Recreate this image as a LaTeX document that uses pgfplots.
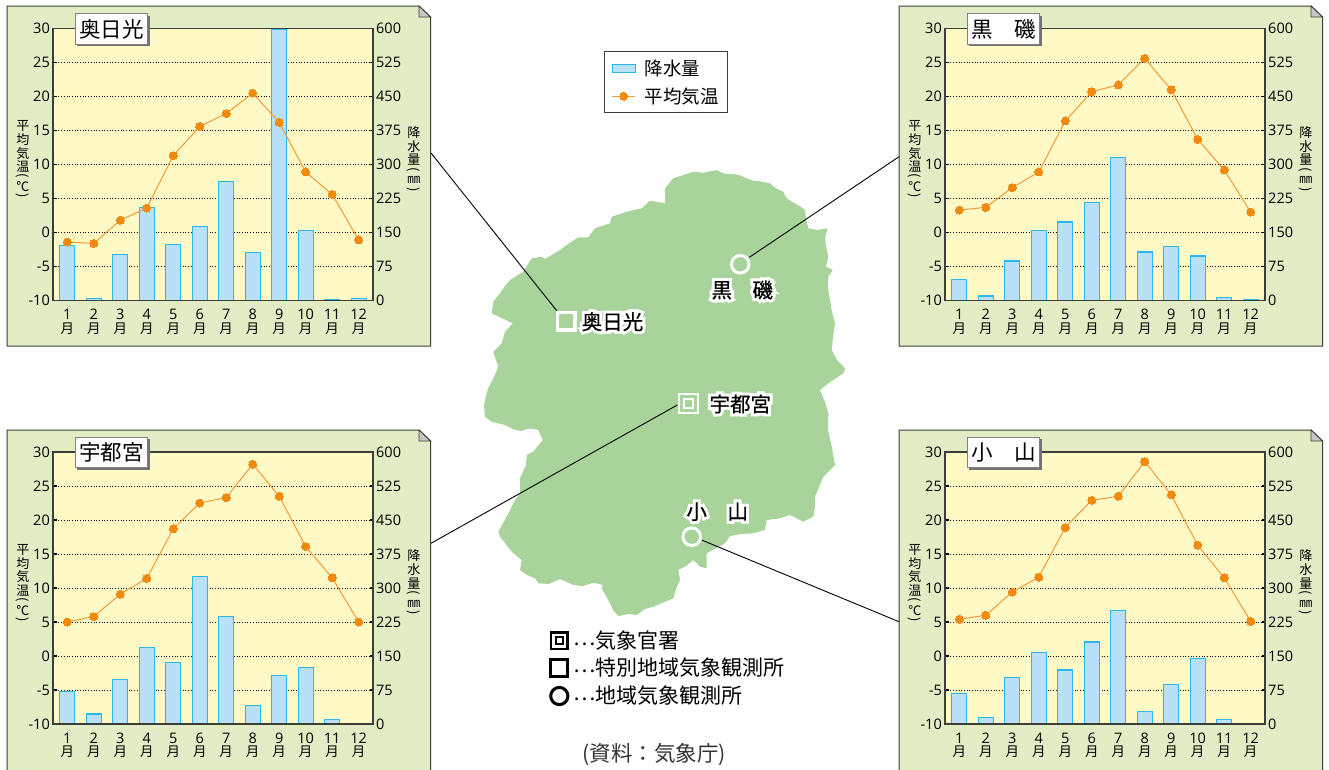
\documentclass[border=0pt]{standalone}
\usepackage{graphicx}
\usepackage{fontspec}
\usepackage{pgfplots}
\usepackage{pgfplotstable}
\pgfplotsset{compat=1.18}
\setmainfont{Open Sans}
\newfontfamily\jp{Noto Sans CJK JP}
\newfontfamily\jpb[FakeBold=0.5]{Noto Sans CJK JP}
\newfontfamily\jphalo[FakeBold=30]{Noto Sans CJK JP}

\definecolor{cardbg}{HTML}{E2EDC6}
\definecolor{plotbg}{HTML}{FEF9C5}
\definecolor{mapgreen}{HTML}{A8D39A}
\definecolor{barfill}{HTML}{B8E1F9}
\definecolor{baredge}{HTML}{2BB7EA}
\definecolor{tempdot}{HTML}{F18A0E}
\definecolor{templine}{HTML}{F39A35}
\definecolor{axisdark}{HTML}{3C3F38}

% month temperature rain
\pgfplotstableread{
m t p
1 -1.4 121
2 -1.6 5
3 1.8 102
4 3.6 206
5 11.3 124
6 15.6 163
7 17.5 262
8 20.5 105
9 16.2 597
10 8.9 154
11 5.6 3
12 -1.1 4
}\okunikko
\pgfplotstableread{
m t p
1 3.3 47
2 3.7 10
3 6.6 87
4 8.9 154
5 16.4 173
6 20.7 216
7 21.7 315
8 25.6 107
9 21.0 119
10 13.7 98
11 9.2 7
12 3.0 1
}\kuroiso
\pgfplotstableread{
m t p
1 5.0 72
2 5.8 22
3 9.1 99
4 11.4 169
5 18.7 135
6 22.5 325
7 23.3 237
8 28.2 41
9 23.5 107
10 16.1 124
11 11.5 10
12 5.0 1
}\utsunomiya
\pgfplotstableread{
m t p
1 5.4 68
2 6.0 15
3 9.4 102
4 11.6 158
5 18.9 119
6 22.9 181
7 23.5 251
8 28.6 28
9 23.7 88
10 16.3 144
11 11.5 10
12 5.1 0
}\oyama

\pgfplotstableread{
x y
716.7 170
721 172.5
726.7 174
733 174
740 175.3
747 178.5
753.3 180.7
761 181.5
770 183.3
776 188.5
783.3 191.7
786 197.5
791.7 201.7
798 205
805 210
806 219
808.3 228.3
818 230
827.7 228.3
825 238
826 246.7
828.3 256.7
826 266.7
832.7 270
828.3 276.7
828 288
830 300
832 312
835 323.3
833 337
831.7 350
837 360
845 368.3
843.3 373.3
828.3 383.3
820 390
825 402
828.3 413.3
828 430
831.7 446.7
835 465
823.3 476.7
819 487
815 496.7
815 507
813.3 516.7
803.3 521.7
790 515
780 518.3
766.7 520
765 530
753.3 533.3
741 534
730 536
725 543.3
706.7 553.3
706.7 568.3
700 566.7
693.3 560
686 566
678.3 570
680 580
676 589
673.3 598.3
653.3 606.7
645 609
636.7 615
628 614
618.3 616
613 610
610 603.3
601.7 588.3
603.3 585
593.3 582.7
583 586
573.3 585
560 579
549 584
538.3 583.3
535 578.3
527 575
520 570
521.7 560
512 552
500 536.7
498.3 531.7
507 516
515 500
520 493.3
520 478.3
526 465
526.7 455
533.3 451.7
542.7 440
538.3 430
530 428.3
521 431
513.3 429.3
505 425
491.7 421.7
485 416.7
484 405
486.7 393.3
488.3 388.3
494 377
498.3 366.7
493.3 351.7
501.7 343.3
505 331.7
512.7 323.3
491.7 313.3
493.3 301.7
500 293.3
505 286
510 280
523.3 271.7
531.7 258.3
541.7 256.7
545 259
560 250
566.7 245
578.3 237.3
588.3 237.3
595 228.3
610 223.3
611.7 216.7
626.7 211.7
641.7 208.3
650 200.7
665 203.3
665 188.3
673.3 178.3
683.3 175
693.3 171.7
703.3 172.7
}\mapoutline

\newcommand\mon[1]{#1\\[-0.5pt]{\jp\fontsize{13.5}{13.5}\selectfont 月}}
\newcommand\vparen[1]{\rotatebox[origin=c]{-90}{#1}}
% one cell of a stacked vertical label: height, content
\newcommand\vcell[2]{\hbox to 16pt{\hfil\vbox to #1pt{\vfil\hbox{#2}\vfil}\hfil}}
\newcommand\vunit[1]{\vcell{7}{\vparen{(}}\vcell{13}{#1}\vcell{7}{\vparen{)}}}
\newcommand\vlabel[1]{{\jp\fontsize{13}{13.5}\selectfont\vbox{\offinterlineskip #1}}}

\pgfplotsset{
  panel/.style={
    scale only axis, width=320pt, height=272pt, anchor=south west,
    xmin=0.46, xmax=12.54, clip=false,
    tick align=inside, major tick length=3.5pt,
    tick style={black, line width=1.2pt},
    axis line style={axisdark, line width=1.3pt},
    tick label style={font=\fontsize{14.5}{14}\selectfont, inner sep=3pt},
    /pgf/number format/assume math mode=true,
    ylabel style={rotate=-90, anchor=center},
  },
}

\newcommand\chart[3]{%
  \begin{axis}[panel, at={(#1pt,#2pt)},
      ymin=0, ymax=600, ytick={0,75,...,600},
      axis x line=none, axis y line*=right,
      ymajorgrids, grid style={black, line width=0.7pt, dotted},
      axis background/.style={fill=plotbg},
      ylabel={\vlabel{\vcell{13.7}{降}\vcell{13.7}{水}\vcell{13.7}{量}\vunit{㎜}}},
      ylabel style={at={(axis description cs:1.128,0.518)}},
    ]
    \addplot[ybar, bar width=15pt, fill=barfill, draw=baredge, line width=1.2pt]
      table[x=m, y=p] {#3};
  \end{axis}
  \begin{axis}[panel, at={(#1pt,#2pt)},
      ymin=-10, ymax=30, ytick={-10,-5,...,30}, ytick pos=left,
      xtick={1,...,12}, xtick pos=bottom, x tick style={draw=none},
      x tick label style={align=center, yshift=-5.5pt},
      xticklabels={{\mon{1}},{\mon{2}},{\mon{3}},{\mon{4}},{\mon{5}},{\mon{6}},
        {\mon{7}},{\mon{8}},{\mon{9}},{\mon{10}},{\mon{11}},{\mon{12}}},
      ylabel={\vlabel{\vcell{13.5}{平}\vcell{13.5}{均}\vcell{13.5}{気}\vcell{13.5}{温}\vunit{℃}}},
      ylabel style={at={(axis description cs:-0.094,0.5165)}},
    ]
    \addplot[templine, line width=1pt, mark=*, mark size=4pt,
        mark options={fill=tempdot, draw=tempdot, line width=0pt}]
      table[x=m, y=t] {#3};
  \end{axis}
}

% title tag in pixel coordinates: left, top, text
\newcommand\tag[3]{%
  \fill[black!55] (#1+2,#2+2) rectangle ++(72.2,30.6);
  \draw[black!50, fill=white, line width=0.9pt] (#1,#2) rectangle ++(72.2,30.6);
  \node[font=\jp\fontsize{21.5}{22}\selectfont, inner sep=0pt]
    at (#1+36.1,#2+15.3) {#3};
}
% map label with white halo
\newcommand\stn[3]{%
  \node[white, font=\jphalo\fontsize{20.5}{21}\selectfont, inner sep=0pt] at (#1,#2) {#3};
  \node[font=\jpb\fontsize{20.5}{21}\selectfont, inner sep=0pt] at (#1,#2) {#3};
}
\newcommand\leaderdots{\raisebox{3.5pt}{⋯}}

\begin{document}
\begin{tikzpicture}
\path[use as bounding box] (0,0) rectangle (1329pt,769pt);

\begin{axis}[
    scale only axis, width=1329pt, height=769pt, at={(0pt,0pt)}, anchor=south west,
    xmin=0, xmax=1329, ymin=0, ymax=769, y dir=reverse, hide axis,
    every axis plot/.append style={forget plot},
    legend cell align=left,
    legend image code/.code={
      \draw[mark repeat=2, mark phase=2, #1] plot coordinates {(0pt,0pt) (11.5pt,0pt) (23pt,0pt)};
    },
    legend style={at={(axis description cs:0.4545,0.9337)}, anchor=north west,
      draw=axisdark, line width=1.2pt, fill=white, row sep=7pt,
      inner xsep=7pt, inner ysep=6pt,
      /tikz/every odd column/.append style={column sep=7pt},
      font=\jp\fontsize{18.5}{18.5}\selectfont},
  ]
  % cards
  \addplot[fill=cardbg, draw=axisdark, line width=1pt] coordinates {(7,6) (419,6) (430.5,17) (430.5,346) (7,346)} -- cycle;
  \addplot[fill=cardbg, draw=axisdark, line width=1pt] coordinates {(899,6) (1311,6) (1322.5,17) (1322.5,346) (899,346)} -- cycle;
  \addplot[fill=cardbg, draw=axisdark, line width=1pt] coordinates {(7,430) (419,430) (430.5,441) (430.5,790) (7,790)} -- cycle;
  \addplot[fill=cardbg, draw=axisdark, line width=1pt] coordinates {(899,430) (1311,430) (1322.5,441) (1322.5,790) (899,790)} -- cycle;
  % folded corners
  \addplot[fill=black!22, draw=axisdark, line width=0.8pt] coordinates {(419,6) (419,17) (430.5,17)} -- cycle;
  \addplot[fill=black!22, draw=axisdark, line width=0.8pt] coordinates {(1311,6) (1311,17) (1322.5,17)} -- cycle;
  \addplot[fill=black!22, draw=axisdark, line width=0.8pt] coordinates {(419,430) (419,441) (430.5,441)} -- cycle;
  \addplot[fill=black!22, draw=axisdark, line width=0.8pt] coordinates {(1311,430) (1311,441) (1322.5,441)} -- cycle;
  % map
  \addplot[fill=mapgreen, draw=none] table[x=x, y=y] {\mapoutline} -- cycle;
  % leader lines
  \addplot[black, line width=0.9pt] coordinates {(431,153) (557,311)};
  \addplot[black, line width=0.9pt] coordinates {(899,156.7) (749.3,257.3)};
  \addplot[black, line width=0.9pt] coordinates {(431,543.3) (677.3,405)};
  \addplot[black, line width=0.9pt] coordinates {(899,621.7) (702.3,540.3)};
  % stations
  \addplot[only marks, mark=square, mark size=8.8pt, white, line width=3.4pt] coordinates {(566.3,321.3)};
  \addplot[only marks, mark=o, mark size=8.8pt, white, line width=3pt] coordinates {(740.3,264.3) (691.7,536.7)};
  \addplot[only marks, mark=square, mark size=9.5pt, white, line width=2.2pt] coordinates {(688.7,403.7)};
  \addplot[only marks, mark=square, mark size=4.5pt, white, line width=2pt] coordinates {(688.7,403.7)};
  % key below the map
  \addplot[only marks, mark=square, mark size=8.2pt, black, line width=2.6pt] coordinates {(559.3,640.7)};
  \addplot[only marks, mark=square, mark size=3.4pt, black, line width=2pt] coordinates {(559.3,640.7)};
  \addplot[only marks, mark=square, mark size=8.4pt, black, line width=3pt] coordinates {(559.3,667.7)};
  \addplot[only marks, mark=o, mark size=8.6pt, black, line width=3pt] coordinates {(559.3,696)};
  % legend
  \addlegendimage{legend image code/.code={\draw[fill=barfill, draw=baredge, line width=1.2pt] (0pt,-4pt) rectangle (23pt,4pt);}}
  \addlegendentry{降水量}
  \addlegendimage{templine, line width=1pt, mark=*, mark size=4pt, mark options={fill=tempdot, draw=tempdot, line width=0pt}}
  \addlegendentry{平均気温}
\end{axis}

\chart{53}{468.5}{\okunikko}
\chart{945}{468.5}{\kuroiso}
\chart{53}{45}{\utsunomiya}
\chart{945}{45}{\oyama}

\begin{scope}[x=1pt, y=-1pt, shift={(0pt,769pt)}]
  \tag{75.3}{13.7}{奥日光}
  \tag{967.3}{13.7}{黒　磯}
  \tag{75.3}{437}{宇都宮}
  \tag{967.3}{437}{小　山}
  \stn{612.5}{321.7}{奥日光}
  \stn{742.3}{290}{黒　磯}
  \stn{740.3}{404}{宇都宮}
  \stn{717.2}{511.7}{小　山}
  \node[anchor=west, inner sep=0pt, font=\jp\fontsize{21}{21}\selectfont] at (573,640.7) {\leaderdots 気象官署};
  \node[anchor=west, inner sep=0pt, font=\jp\fontsize{21}{21}\selectfont] at (573,667.7) {\leaderdots 特別地域気象観測所};
  \node[anchor=west, inner sep=0pt, font=\jp\fontsize{21}{21}\selectfont] at (573,696) {\leaderdots 地域気象観測所};
  \node[inner sep=0pt, text=black!80, font=\jp\fontsize{21.5}{21}\selectfont] at (654,755) {(資料：気象庁)};
\end{scope}
\end{tikzpicture}
\end{document}
